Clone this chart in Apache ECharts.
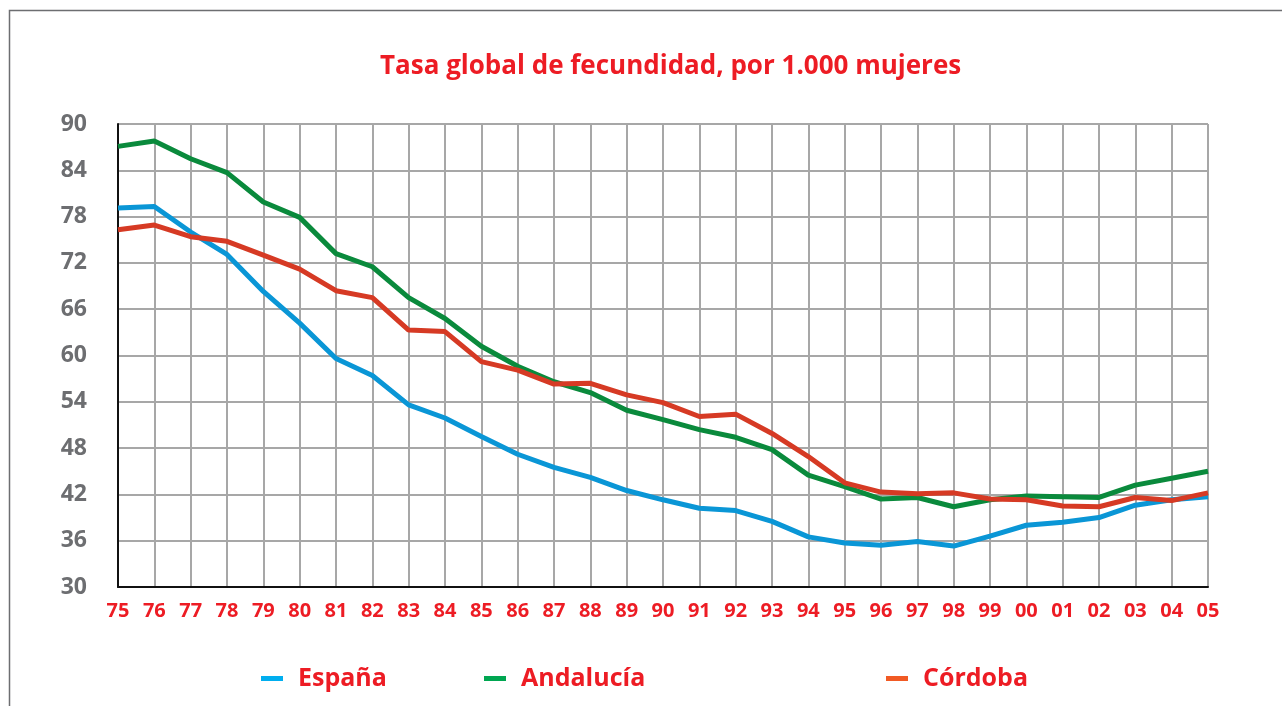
<!DOCTYPE html>
<html>
<head>
<meta charset="utf-8">
<script src="https://cdn.jsdelivr.net/npm/echarts@6/dist/echarts.min.js"></script>
<style>
  html, body { margin: 0; padding: 0; background: #fff; }
  #main { width: 1282px; height: 706px; }
</style>
</head>
<body>
<div id="main"></div>
<script>
var years = ['75', '76', '77', '78', '79', '80', '81', '82', '83', '84', '85', '86', '87', '88', '89',
    '90', '91', '92', '93', '94', '95', '96', '97', '98', '99', '00', '01', '02', '03', '04', '05'];

var espana = [79.1, 79.3, 76.0, 73.1, 68.3, 64.2, 59.6, 57.4, 53.6, 51.9, 49.5, 47.2, 45.5, 44.2, 42.5,
    41.3, 40.2, 39.9, 38.5, 36.5, 35.7, 35.4, 35.9, 35.3, 36.6, 38.0, 38.4, 39.0, 40.6, 41.3, 41.7];
var andalucia = [87.1, 87.8, 85.5, 83.7, 79.9, 77.9, 73.2, 71.5, 67.5, 64.8, 61.2, 58.6, 56.6, 55.2, 52.9,
    51.7, 50.4, 49.4, 47.8, 44.5, 43.0, 41.4, 41.6, 40.4, 41.3, 41.8, 41.7, 41.6, 43.2, 44.1, 45.0];
var cordoba = [76.3, 76.9, 75.4, 74.8, 73.0, 71.2, 68.4, 67.5, 63.3, 63.1, 59.2, 58.1, 56.3, 56.4, 54.9,
    53.9, 52.1, 52.4, 49.9, 46.9, 43.5, 42.3, 42.1, 42.2, 41.4, 41.3, 40.5, 40.4, 41.6, 41.2, 42.2];

var yTicks = [30, 36, 42, 48, 54, 60, 66, 72, 78, 84, 90];

var titleText = 'Tasa global de fecundidad, por 1.000 mujeres';
var seriesNames = ['España', 'Andalucía', 'Córdoba'];
var lineColors = ['#0a96d6', '#0a8a3c', '#d63a24'];
var iconColors = ['#00aeef', '#00a651', '#f15a24'];

var font = '"Open Sans", "Noto Sans", sans-serif';
var red = '#ed1c24';

function legendAt(i, left) {
    return {
        data: [{ name: seriesNames[i], itemStyle: { color: iconColors[i] } }],
        left: left,
        top: 661,
        icon: 'rect',
        itemWidth: 22,
        itemHeight: 5,
        itemGap: 0,
        textStyle: {
            color: red,
            fontFamily: font,
            fontWeight: 'bold',
            fontSize: 25,
            padding: [0, 0, 0, 10]
        }
    };
}

var myChart = echarts.init(document.getElementById('main'));
var option = {
    animation: false,
    backgroundColor: '#fff',
    title: {
        text: titleText,
        left: 375,
        top: 49,
        textStyle: {
            color: red,
            fontFamily: font,
            fontWeight: 'bold',
            fontSize: 26
        }
    },
    legend: [legendAt(0, 256), legendAt(1, 479), legendAt(2, 881)],
    graphic: [{
        type: 'polyline',
        shape: { points: [[9.5, 706], [9.5, 10.5], [1282, 10.5]] },
        style: { stroke: '#6d6e71', lineWidth: 1.5, fill: null },
        silent: true
    }],
    grid: {
        left: 118,
        right: 74,
        top: 124,
        bottom: 119,
        containLabel: false
    },
    xAxis: {
        type: 'category',
        data: years,
        boundaryGap: false,
        axisLine: { lineStyle: { color: '#111', width: 2 } },
        axisTick: { show: false },
        axisLabel: {
            color: red,
            fontFamily: font,
            fontWeight: 'bold',
            fontSize: 20,
            margin: 14,
            interval: 0
        },
        splitLine: { show: true, lineStyle: { color: '#a7a7a7', width: 2 } }
    },
    yAxis: {
        type: 'value',
        min: yTicks[0],
        max: yTicks[yTicks.length - 1],
        interval: 6,
        axisLine: { show: true, lineStyle: { color: '#111', width: 2 } },
        axisTick: { show: false },
        axisLabel: {
            color: '#6d6e71',
            fontFamily: font,
            fontWeight: 'bold',
            fontSize: 23,
            margin: 31
        },
        splitLine: { show: true, lineStyle: { color: '#a7a7a7', width: 2 } }
    },
    series: [
        { name: seriesNames[0], type: 'line', data: espana, symbol: 'none', z: 3,
          lineStyle: { color: lineColors[0], width: 5 }, itemStyle: { color: lineColors[0] } },
        { name: seriesNames[1], type: 'line', data: andalucia, symbol: 'none', z: 4,
          lineStyle: { color: lineColors[1], width: 5 }, itemStyle: { color: lineColors[1] } },
        { name: seriesNames[2], type: 'line', data: cordoba, symbol: 'none', z: 5,
          lineStyle: { color: lineColors[2], width: 5 }, itemStyle: { color: lineColors[2] } }
    ]
};
myChart.setOption(option);
</script>
</body>
</html>
